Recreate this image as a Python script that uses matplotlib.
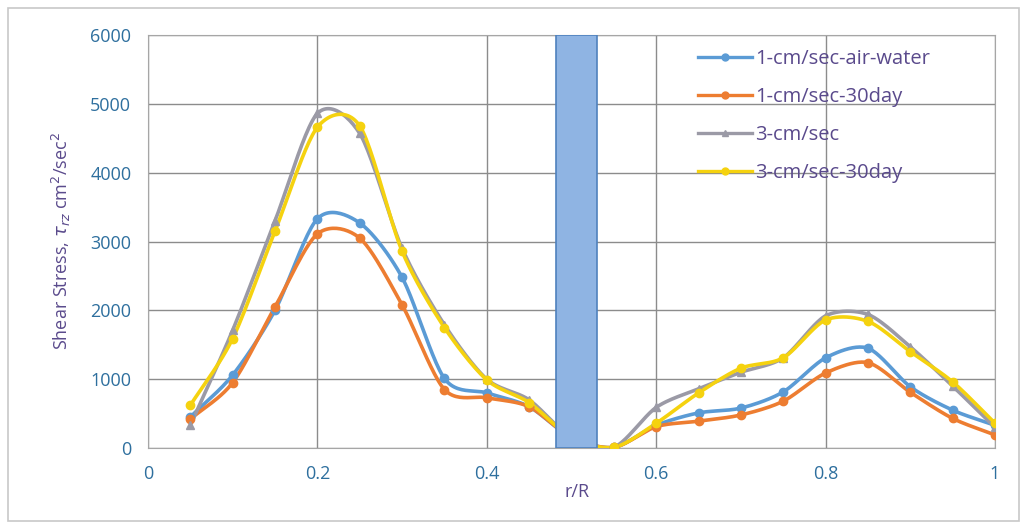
import numpy as np
import matplotlib
matplotlib.use("Agg")
import matplotlib.pyplot as plt
from matplotlib.patches import Rectangle

r_R = [0.05, 0.10, 0.15, 0.20, 0.25, 0.30, 0.35, 0.40, 0.45, 0.50,
       0.55, 0.60, 0.65, 0.70, 0.75, 0.80, 0.85, 0.90, 0.95, 1.00]
s_1cm_air = [450, 1060, 2000, 3330, 3270, 2480, 1010, 800, 600, 150,
             10, 330, 510, 580, 815, 1310, 1450, 890, 550, 330]
s_1cm_30d = [420, 950, 2050, 3110, 3050, 2080, 850, 730, 600, 150,
             10, 310, 390, 480, 680, 1090, 1240, 810, 430, 190]
s_3cm = [330, 1710, 3300, 4860, 4570, 2900, 1790, 1000, 700, 150,
         10, 590, 860, 1100, 1310, 1920, 1940, 1470, 900, 300]
s_3cm_30d = [620, 1590, 3150, 4660, 4680, 2860, 1750, 990, 660, 150,
             10, 360, 800, 1160, 1310, 1860, 1840, 1400, 960, 360]

series_names = ["1-cm/sec-air-water", "1-cm/sec-30day", "3-cm/sec", "3-cm/sec-30day"]
bar_x = [0.506]
bar_h = [6000]
x_ticks = [0, 0.2, 0.4, 0.6, 0.8, 1.0]
x_ticklabels = ["0", "0.2", "0.4", "0.6", "0.8", "1"]
y_ticks = [0, 1000, 2000, 3000, 4000, 5000, 6000]


def smooth(x, y, n=24):
    x = np.asarray(x, float)
    y = np.asarray(y, float)
    px = np.concatenate([[2 * x[0] - x[1]], x, [2 * x[-1] - x[-2]]])
    py = np.concatenate([[2 * y[0] - y[1]], y, [2 * y[-1] - y[-2]]])
    xs, ys = [], []
    t = np.linspace(0, 1, n, endpoint=False)
    for i in range(1, len(px) - 2):
        p0, p1, p2, p3 = [np.array([px[j], py[j]]) for j in (i - 1, i, i + 1, i + 2)]
        m1 = (p2 - p0) / 2 * 0.85
        m2 = (p3 - p1) / 2 * 0.85
        h00 = 2 * t**3 - 3 * t**2 + 1
        h10 = t**3 - 2 * t**2 + t
        h01 = -2 * t**3 + 3 * t**2
        h11 = t**3 - t**2
        pts = (np.outer(h00, p1) + np.outer(h10, m1) + np.outer(h01, p2) + np.outer(h11, m2))
        xs.extend(pts[:, 0])
        ys.extend(pts[:, 1])
    xs.append(x[-1])
    ys.append(y[-1])
    return np.array(xs), np.array(ys)


plt.rcParams['font.family'] = ['Open Sans', 'DejaVu Sans']

fig = plt.figure(figsize=(10.26, 5.29), dpi=100)
fig.patches.append(Rectangle((0.008, 0.015), 0.985, 0.97, transform=fig.transFigure,
                             fill=False, edgecolor="#c8c8c8", linewidth=1.2))
ax = fig.add_axes([0.1442, 0.1531, 0.8256, 0.7807])

colors = ["#5b9bd5", "#ed7d31", "#9b9aa6", "#f5d20f"]
markers = ["o", "o", "^", "o"]
datas = [s_1cm_air, s_1cm_30d, s_3cm, s_3cm_30d]
for name, data, c, m in zip(series_names, datas, colors, markers):
    sx, sy = smooth(r_R, data)
    ax.plot(sx, sy, color=c, linewidth=2.6, zorder=3)
    ax.plot(r_R, data, linestyle="none", marker=m, markersize=6, color=c, zorder=4)
    ax.plot([], [], color=c, linewidth=2.4, marker=m, markersize=5, label=name)

ax.bar(bar_x, bar_h, width=0.048, color="#8fb4e3", edgecolor="#4f81bd", linewidth=1.2, zorder=5)

ax.set_xlim(0, 1)
ax.set_ylim(0, 6000)
ax.set_xticks(x_ticks)
ax.set_xticklabels(x_ticklabels)
ax.set_yticks(y_ticks)
ax.grid(True, color="#8c8c8c", linewidth=1.0)
ax.set_axisbelow(True)
for s in ax.spines.values():
    s.set_color("#a6a6a6")
ax.tick_params(length=0, labelsize=13, labelcolor="#2e6f9e", pad=12)

ax.set_ylabel(r"Shear Stress, $\tau_{rz}$ cm$^2$/sec$^2$", fontsize=13, color="#5a4a8c", labelpad=12)
ax.text(0.506, -0.085, "r/R", transform=ax.get_xaxis_transform(), ha="center", va="top",
        fontsize=13, color="#5a4a8c")

leg = ax.legend(loc="upper left", bbox_to_anchor=(0.649, 0.965), frameon=False, fontsize=14.5,
                handlelength=2.7, handletextpad=0.15, labelspacing=0.88, borderaxespad=0,
                borderpad=0)
for t in leg.get_texts():
    t.set_color("#5a4a8c")

fig.savefig("out.png", dpi=100)
